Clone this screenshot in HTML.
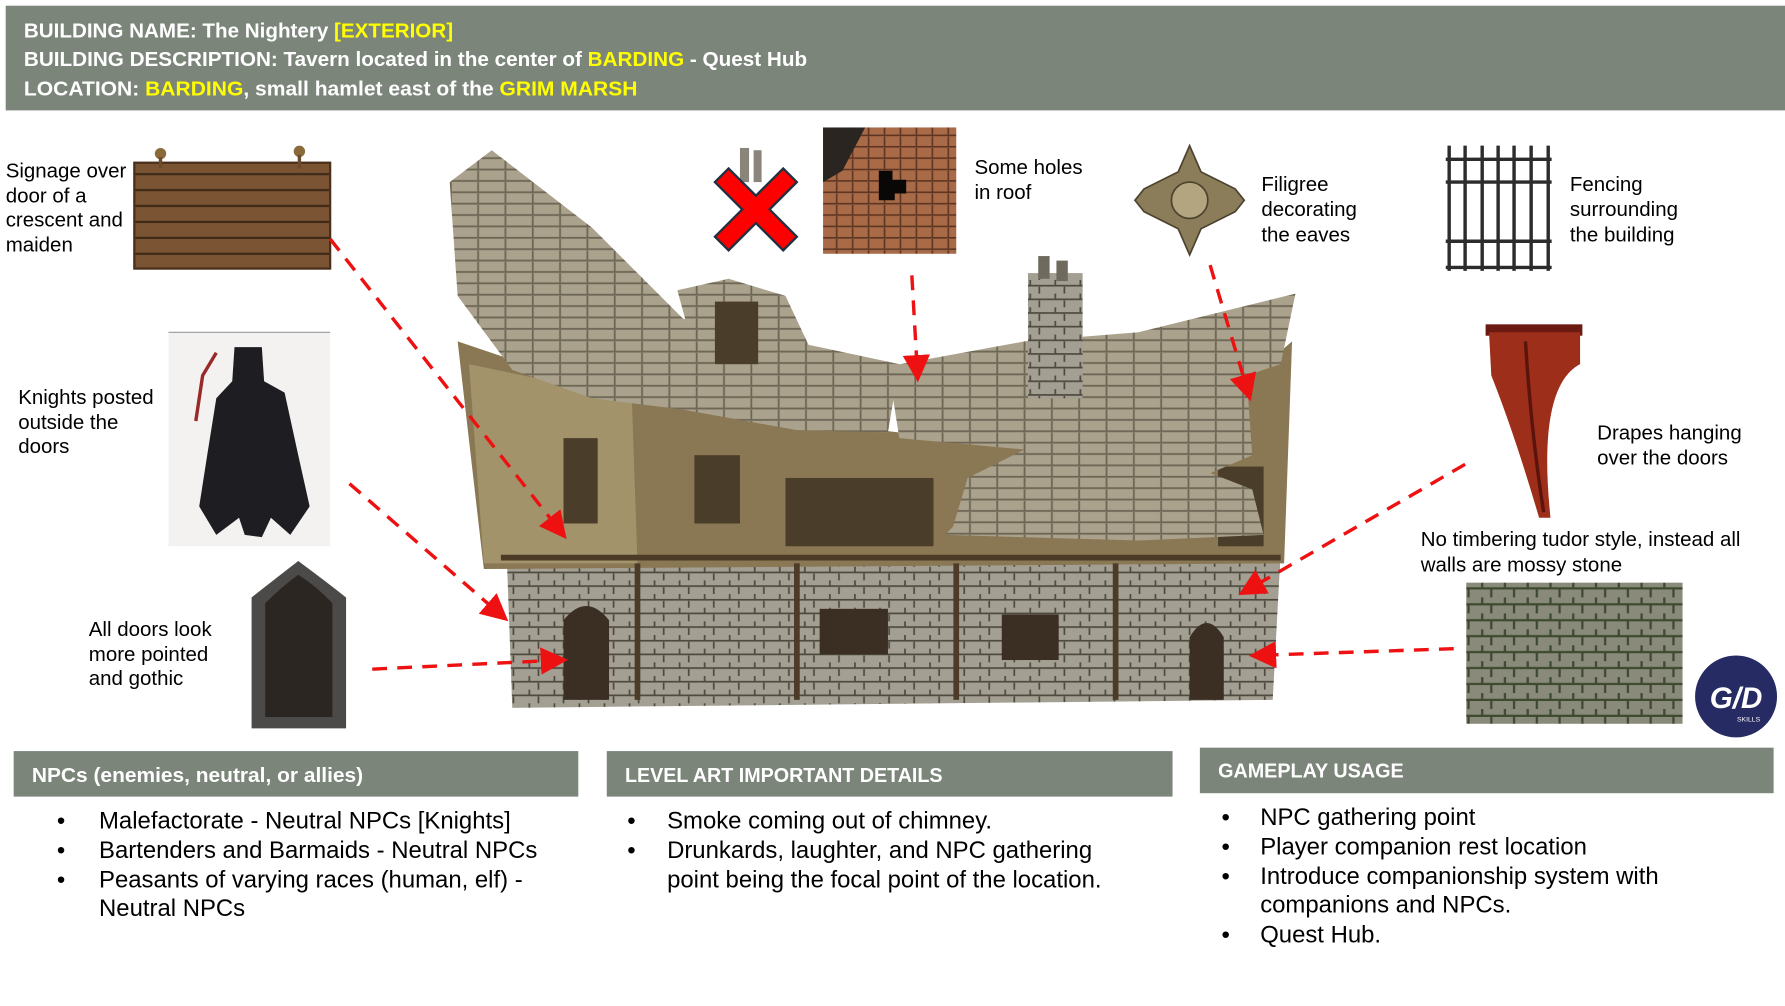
<!DOCTYPE html>
<html><head><meta charset="utf-8"><style>
html,body{margin:0;padding:0;background:#fff;width:1785px;height:1006px;overflow:hidden}
svg{display:block}
.lb{font-family:"Liberation Sans",Arial,sans-serif;font-size:18px;fill:#000}
.hd{font-family:"Liberation Sans",Arial,sans-serif;font-weight:bold;font-size:18px;fill:#fff}
.y{fill:#ffff00}
.bt{font-family:"Liberation Sans",Arial,sans-serif;font-size:21px;fill:#000}
.ar{stroke:#ee1111;stroke-width:3;stroke-dasharray:13 9;fill:none}
</style></head><body>
<svg width="1785" height="1006" viewBox="0 0 1568 884" preserveAspectRatio="none" xmlns="http://www.w3.org/2000/svg">
<defs>
<marker id="ah" markerWidth="8" markerHeight="8" refX="6" refY="4" orient="auto" markerUnits="strokeWidth">
<path d="M0,0 L8,4 L0,8 z" fill="#ee1111"/></marker>
<pattern id="shing" width="24" height="10" patternUnits="userSpaceOnUse">
<rect width="24" height="10" fill="#aaa28c"/><path d="M0,9 H24 M12,0 V9" stroke="#6e6756" stroke-width="1.6"/></pattern>
<pattern id="stone" width="22" height="12" patternUnits="userSpaceOnUse">
<rect width="22" height="12" fill="#a39f92"/><path d="M0,11 H22 M11,0 V6 M3,6 V11" stroke="#4e4a40" stroke-width="1.5"/></pattern>
<pattern id="wood" width="170" height="14" patternUnits="userSpaceOnUse">
<rect width="170" height="14" fill="#7b5434"/><path d="M0,13 H170" stroke="#3f2a18" stroke-width="2"/></pattern>
<pattern id="tile" width="14" height="10" patternUnits="userSpaceOnUse">
<rect width="14" height="10" fill="#a86a47"/><path d="M0,9 H14 M7,0 V9" stroke="#5e3522" stroke-width="1.4"/></pattern>
<pattern id="moss" width="20" height="14" patternUnits="userSpaceOnUse">
<rect width="20" height="14" fill="#8a8a7a"/><path d="M0,13 H20 M10,0 V7 M2,7 V13" stroke="#3e4a30" stroke-width="2"/></pattern>
</defs>

<rect x="5" y="5" width="1563" height="92" fill="#7b857a"/>
<text class="hd" x="21" y="33" textLength="377" lengthAdjust="spacingAndGlyphs">BUILDING NAME: The Nightery <tspan class="y">[EXTERIOR]</tspan></text>
<text class="hd" x="21" y="58" textLength="688" lengthAdjust="spacingAndGlyphs">BUILDING DESCRIPTION: Tavern located in the center of <tspan class="y">BARDING</tspan> - Quest Hub</text>
<text class="hd" x="21" y="84" textLength="539" lengthAdjust="spacingAndGlyphs">LOCATION:  <tspan class="y">BARDING</tspan>, small hamlet east of the <tspan class="y">GRIM MARSH</tspan></text>

<!-- building -->
<g>
<polygon points="445,485 1125,485 1118,615 450,622" fill="url(#stone)"/>
<polygon points="402,300 520,340 700,370 790,380 900,390 1030,360 1100,330 1135,300 1128,495 425,500" fill="#8a7753"/>
<polygon points="412,320 555,350 560,495 425,495" fill="#a2936a"/>
<g fill="#4a3d2a"><rect x="495" y="385" width="30" height="75"/><rect x="610" y="400" width="40" height="60"/><rect x="690" y="420" width="130" height="60"/><rect x="1070" y="410" width="40" height="70"/><rect x="945" y="370" width="40" height="55"/></g>
<g fill="#3a2f22"><path d="M495,615 V545 Q515,520 535,545 V615 Z"/><path d="M1045,615 V560 Q1060,535 1075,560 V615 Z"/><rect x="720" y="535" width="60" height="40"/><rect x="880" y="540" width="50" height="40"/></g>
<g stroke="#4b3b27" stroke-width="5"><line x1="560" y1="495" x2="560" y2="615"/><line x1="700" y1="495" x2="700" y2="615"/><line x1="840" y1="495" x2="840" y2="615"/><line x1="980" y1="495" x2="980" y2="615"/><line x1="440" y1="490" x2="1125" y2="490"/></g>
<polygon points="395,160 432,132 520,200 600,280 720,305 790,320 780,380 700,378 600,360 520,350 450,325 402,260" fill="url(#shing)"/>
<polygon points="595,255 640,245 690,260 730,345 640,345 610,310" fill="url(#shing)"/>
<rect x="628" y="265" width="38" height="55" fill="#4a3d2a"/>
<polygon points="780,322 900,300 1000,292 1138,258 1125,320 1095,330 1100,400 1030,430 940,470 835,470 850,420 900,395 790,385" fill="url(#shing)"/>
<polygon points="830,470 900,400 1010,395 1100,430 1110,470 1000,475" fill="url(#shing)"/>
<rect x="903" y="240" width="48" height="110" fill="url(#stone)"/>
<rect x="912" y="225" width="10" height="20" fill="#6f6a5e"/><rect x="928" y="229" width="10" height="18" fill="#6f6a5e"/>
<rect x="650" y="130" width="8" height="30" fill="#8a857a"/><rect x="662" y="132" width="7" height="28" fill="#8a857a"/>
</g>

<g transform="translate(664,184)">
<path d="M-36,-24 L-24,-36 L0,-12 L24,-36 L36,-24 L12,0 L36,24 L24,36 L0,12 L-24,36 L-36,24 L-12,0 Z" fill="#ff0000" stroke="#1f3140" stroke-width="2"/>
</g>

<rect x="723" y="112" width="117" height="111" fill="url(#tile)"/>
<path d="M723,112 L760,112 L740,150 L723,160 Z" fill="#2a2520"/>
<path d="M772,150 h12 v8 h12 v12 h-10 v6 h-14 Z" fill="#0a0806"/>

<rect x="118" y="143" width="172" height="93" fill="url(#wood)"/>
<rect x="118" y="143" width="172" height="93" fill="none" stroke="#4a2f1a" stroke-width="2"/>
<circle cx="141" cy="135" r="5" fill="#8a6a3a"/><circle cx="263" cy="133" r="5" fill="#8a6a3a"/>
<line x1="141" y1="138" x2="141" y2="148" stroke="#6a4a2a" stroke-width="3"/><line x1="263" y1="136" x2="263" y2="148" stroke="#6a4a2a" stroke-width="3"/>

<rect x="148" y="292" width="142" height="188" fill="#f3f2f0"/>
<line x1="148" y1="292" x2="290" y2="292" stroke="#999" stroke-width="1"/>
<path d="M206,305 L230,305 L232,335 L250,345 L262,400 L272,445 L255,470 L238,455 L230,472 L215,470 L210,455 L190,470 L175,445 L182,400 L190,350 L204,335 Z" fill="#1e1e22"/>
<path d="M190,310 L178,330 L172,370" stroke="#9a2a2a" stroke-width="3" fill="none"/>

<path d="M221,640 V525 Q240,510 262,493 Q285,510 304,525 V640 Z" fill="#4c4a48"/>
<path d="M233,630 V530 Q248,515 262,505 Q278,515 292,530 V630 Z" fill="#2c2622"/>

<g transform="translate(1045,176)" fill="#8c7d5a" stroke="#4d4430" stroke-width="1.5">
<path d="M0,-48 L10,-25 L40,-10 L48,0 L40,10 L10,25 L0,48 L-10,25 L-40,10 L-48,0 L-40,-10 L-10,-25 Z"/>
<circle r="16" fill="#b3a57f"/>
</g>

<g stroke="#2c2c2c" stroke-width="3" fill="none">
<line x1="1270" y1="140" x2="1363" y2="140"/><line x1="1270" y1="235" x2="1363" y2="235"/><line x1="1270" y1="160" x2="1363" y2="160"/><line x1="1270" y1="212" x2="1363" y2="212"/>
<line x1="1273" y1="128" x2="1273" y2="238"/><line x1="1287" y1="128" x2="1287" y2="238"/><line x1="1302" y1="128" x2="1302" y2="238"/><line x1="1316" y1="128" x2="1316" y2="238"/><line x1="1330" y1="128" x2="1330" y2="238"/><line x1="1345" y1="128" x2="1345" y2="238"/><line x1="1360" y1="128" x2="1360" y2="238"/>
</g>

<rect x="1305" y="285" width="85" height="10" fill="#6a1a10"/>
<path d="M1308,292 L1388,292 L1388,320 Q1350,340 1362,455 L1352,455 Q1330,380 1310,330 Z" fill="#9c2e1a"/>
<path d="M1340,300 Q1345,380 1356,450" stroke="#5a140c" stroke-width="3" fill="none"/>

<rect x="1288" y="512" width="190" height="124" fill="url(#moss)"/>

<circle cx="1525" cy="612" r="36" fill="#262b63"/>
<text x="1525" y="622" text-anchor="middle" font-family="Liberation Sans,sans-serif" font-weight="bold" font-style="italic" font-size="26" fill="#fff">G/D</text>
<text x="1536" y="634" text-anchor="middle" font-family="Liberation Sans,sans-serif" font-size="6" fill="#fff">SKILLS</text>

<line class="ar" x1="290" y1="210" x2="494" y2="469" marker-end="url(#ah)"/>
<line class="ar" x1="307" y1="425" x2="442" y2="542" marker-end="url(#ah)"/>
<line class="ar" x1="327" y1="588" x2="493" y2="580" marker-end="url(#ah)"/>
<line class="ar" x1="801" y1="242" x2="806" y2="330" marker-end="url(#ah)"/>
<line class="ar" x1="1063" y1="233" x2="1097" y2="347" marker-end="url(#ah)"/>
<line class="ar" x1="1287" y1="408" x2="1093" y2="520" marker-end="url(#ah)"/>
<line class="ar" x1="1277" y1="570" x2="1103" y2="576" marker-end="url(#ah)"/>

<text class="lb"><tspan x="5" y="156">Signage over</tspan><tspan x="5" y="178">door of a</tspan><tspan x="5" y="199">crescent and</tspan><tspan x="5" y="221">maiden</tspan></text>
<text class="lb"><tspan x="16" y="355">Knights posted</tspan><tspan x="16" y="377">outside the</tspan><tspan x="16" y="398">doors</tspan></text>
<text class="lb"><tspan x="78" y="559">All doors look</tspan><tspan x="78" y="581">more pointed</tspan><tspan x="78" y="602">and gothic</tspan></text>
<text class="lb"><tspan x="856" y="153">Some holes</tspan><tspan x="856" y="175">in roof</tspan></text>
<text class="lb"><tspan x="1108" y="168">Filigree</tspan><tspan x="1108" y="190">decorating</tspan><tspan x="1108" y="212">the eaves</tspan></text>
<text class="lb"><tspan x="1379" y="168">Fencing</tspan><tspan x="1379" y="190">surrounding</tspan><tspan x="1379" y="212">the building</tspan></text>
<text class="lb"><tspan x="1403" y="386">Drapes hanging</tspan><tspan x="1403" y="408">over the doors</tspan></text>
<text class="lb"><tspan x="1248" y="480">No timbering tudor style, instead all</tspan><tspan x="1248" y="502">walls are mossy stone</tspan></text>

<rect x="12" y="660" width="496" height="40" fill="#7b857a"/>
<rect x="533" y="660" width="497" height="40" fill="#7b857a"/>
<rect x="1054" y="657" width="504" height="40" fill="#7b857a"/>
<text class="hd" x="28" y="687" textLength="291" lengthAdjust="spacingAndGlyphs">NPCs (enemies, neutral, or allies)</text>
<text class="hd" x="549" y="687" textLength="279" lengthAdjust="spacingAndGlyphs">LEVEL ART IMPORTANT DETAILS</text>
<text class="hd" x="1070" y="683" textLength="163" lengthAdjust="spacingAndGlyphs">GAMEPLAY USAGE</text>

<g class="bt">
<text x="50" y="728">•</text><text x="87" y="728">Malefactorate - Neutral NPCs [Knights]</text>
<text x="50" y="754">•</text><text x="87" y="754">Bartenders and Barmaids - Neutral NPCs</text>
<text x="50" y="780">•</text><text x="87" y="780">Peasants of varying races (human, elf) -</text>
<text x="87" y="805">Neutral NPCs</text>

<text x="551" y="728">•</text><text x="586" y="728">Smoke coming out of chimney.</text>
<text x="551" y="754">•</text><text x="586" y="754">Drunkards, laughter, and NPC gathering</text>
<text x="586" y="780">point being the focal point of the location.</text>

<text x="1073" y="725">•</text><text x="1107" y="725">NPC gathering point</text>
<text x="1073" y="751">•</text><text x="1107" y="751">Player companion rest location</text>
<text x="1073" y="777">•</text><text x="1107" y="777">Introduce companionship system with</text>
<text x="1107" y="802">companions and NPCs.</text>
<text x="1073" y="828">•</text><text x="1107" y="828">Quest Hub.</text>
</g>
</svg>
</body></html>
